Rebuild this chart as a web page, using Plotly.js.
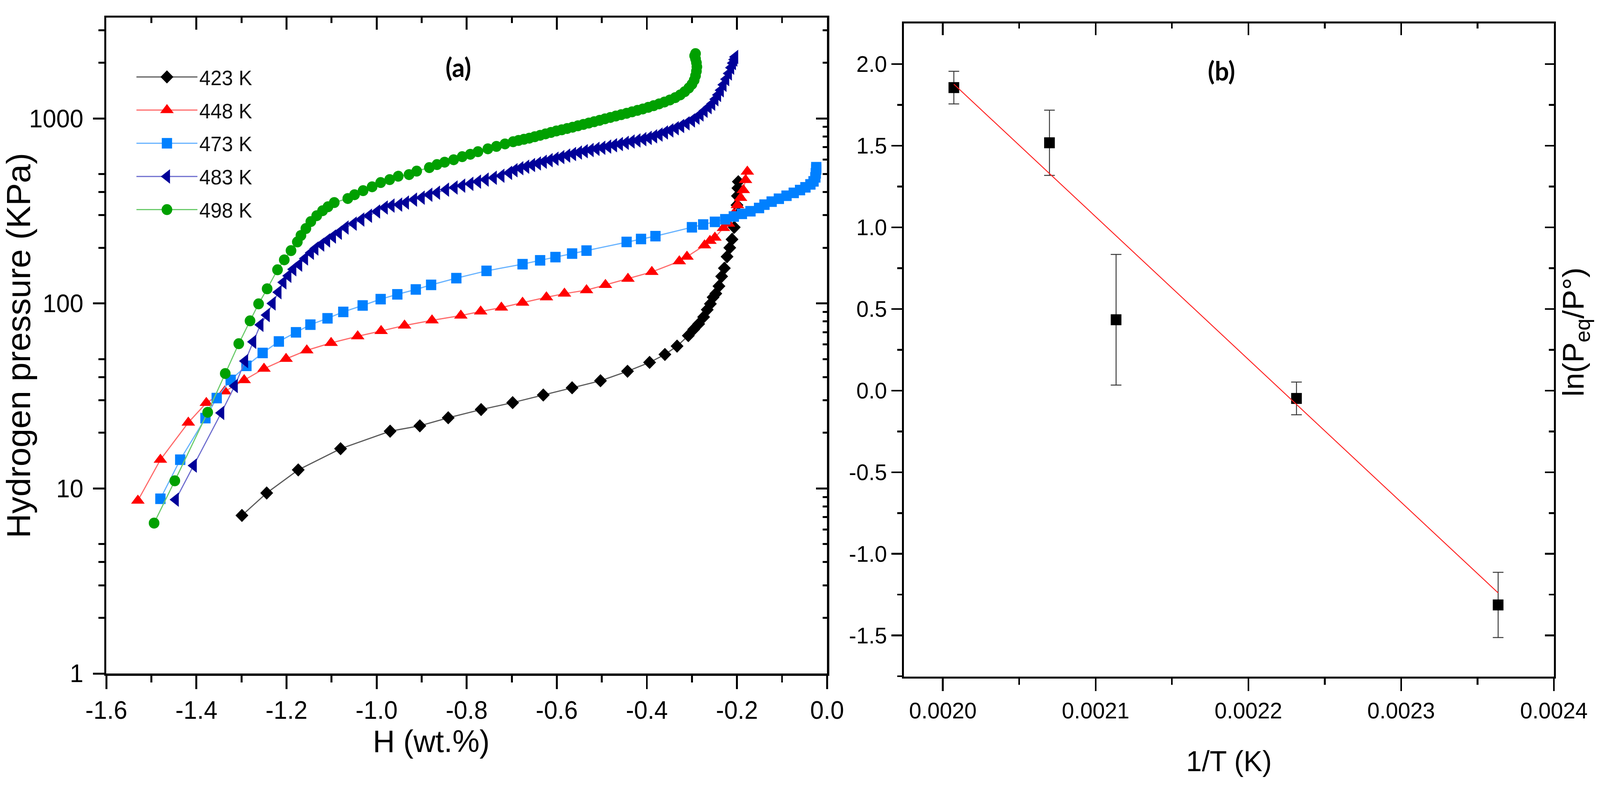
<!DOCTYPE html>
<html><head><meta charset="utf-8">
<script src="https://cdn.plot.ly/plotly-3.0.1.min.js"></script>
<style>
html,body{margin:0;padding:0;background:#fff;overflow:hidden}
#plot{position:absolute;left:0;top:0;width:4198px;height:2012px;transform-origin:0 0}
</style></head><body><div id="plot"></div>
<script>
// ---------- data (panel a): H (wt.%) vs hydrogen pressure (KPa) ----------
const h423 = [-1.299,-1.244,-1.174,-1.080,-0.970,-0.904,-0.841,-0.768,-0.698,-0.630,-0.566,-0.503,-0.443,-0.394,-0.360,-0.333,-0.308,-0.296,-0.285,-0.274,-0.266,-0.259,-0.253,-0.247,-0.240,-0.234,-0.228,-0.222,-0.216,-0.211,-0.206,-0.202,-0.200,-0.199,-0.198,-0.197];
const p423 = [7.15,9.45,12.6,16.4,20.4,21.8,24.1,26.7,29.1,32.0,35.0,38.2,43.0,48.0,53.0,58.8,67.0,72.5,77.5,84.5,92.5,99.5,108,113,124,140,155,179,200,222,258,308,340,381,420,455];

const h448 = [-1.530,-1.480,-1.418,-1.378,-1.337,-1.294,-1.250,-1.201,-1.155,-1.101,-1.042,-0.990,-0.938,-0.877,-0.813,-0.769,-0.723,-0.676,-0.623,-0.583,-0.534,-0.492,-0.442,-0.389,-0.328,-0.311,-0.272,-0.260,-0.249,-0.230,-0.219,-0.207,-0.199,-0.192,-0.186,-0.181,-0.177];
const p448 = [8.6,14.3,22.7,29.0,33.5,38.5,44.4,50.2,55.8,61.2,66.5,71.0,76.0,81.0,86.0,90.5,95.0,101,108,113,118,126,136,148,169,179,206,218,227,256,270,305,340,372,410,465,516];

const h473 = [-1.480,-1.436,-1.380,-1.355,-1.324,-1.289,-1.253,-1.217,-1.179,-1.147,-1.109,-1.074,-1.031,-0.991,-0.954,-0.913,-0.879,-0.823,-0.756,-0.676,-0.637,-0.603,-0.566,-0.534,-0.445,-0.413,-0.381,-0.300,-0.275,-0.249,-0.226,-0.207,-0.189,-0.170,-0.151,-0.139,-0.123,-0.107,-0.090,-0.074,-0.060,-0.048,-0.037,-0.030,-0.026,-0.025,-0.024,-0.024];
const p473 = [8.8,14.3,24.0,30.8,38.6,46.0,54.0,62.3,69.8,76.8,83.1,90.0,97.5,105.5,112,119,126,137,150,163,171,178,186,193,215,223,231,258,267,276,285,295,305,315,328,342,355,368,382,396,410,424,440,457,480,505,530,545];

const h483 = [-1.446,-1.406,-1.345,-1.315,-1.292,-1.274,-1.258,-1.244,-1.231,-1.218,-1.207,-1.196,-1.185,-1.172,-1.159,-1.146,-1.136,-1.123,-1.110,-1.097,-1.084,-1.069,-1.051,-1.034,-1.017,-0.999,-0.982,-0.967,-0.950,-0.935,-0.917,-0.900,-0.883,-0.866,-0.846,-0.827,-0.810,-0.792,-0.775,-0.758,-0.740,-0.723,-0.706,-0.694,-0.681,-0.668,-0.655,-0.642,-0.629,-0.616,-0.603,-0.590,-0.577,-0.564,-0.551,-0.538,-0.525,-0.512,-0.499,-0.486,-0.473,-0.460,-0.447,-0.434,-0.421,-0.408,-0.396,-0.384,-0.372,-0.360,-0.348,-0.336,-0.324,-0.312,-0.300,-0.290,-0.281,-0.272,-0.263,-0.255,-0.248,-0.242,-0.236,-0.230,-0.224,-0.218,-0.213,-0.209,-0.206,-0.204];
const p483 = [8.7,13.3,25.6,35.8,48.8,62.0,76.6,86.5,100,115,130,141,153,162,175,188,198,208,219,230,241,257,270,284,298,314,330,338,342,351,364,373,387,397,412,423,433,443,455,467,478,490,508,525,538,548,560,571,583,595,606,618,630,642,654,665,675,685,694,704,716,727,738,750,760,772,785,800,818,840,862,885,910,940,975,1010,1050,1100,1150,1200,1270,1340,1420,1520,1630,1750,1880,1990,2080,2150];

const h498 = [-1.494,-1.448,-1.375,-1.336,-1.306,-1.281,-1.262,-1.243,-1.220,-1.205,-1.190,-1.176,-1.168,-1.157,-1.146,-1.133,-1.120,-1.108,-1.094,-1.064,-1.049,-1.030,-1.010,-0.991,-0.971,-0.952,-0.928,-0.911,-0.883,-0.866,-0.849,-0.829,-0.810,-0.792,-0.775,-0.753,-0.734,-0.715,-0.697,-0.685,-0.673,-0.661,-0.649,-0.637,-0.625,-0.613,-0.601,-0.589,-0.577,-0.565,-0.553,-0.541,-0.529,-0.517,-0.505,-0.493,-0.481,-0.469,-0.457,-0.445,-0.433,-0.421,-0.409,-0.397,-0.385,-0.373,-0.361,-0.349,-0.337,-0.326,-0.316,-0.307,-0.300,-0.295,-0.292,-0.290,-0.289,-0.290,-0.292,-0.294,-0.292];
const p498 = [6.5,11.0,25.8,41.8,60.6,80.5,99.5,120,152,172,193,215,233,254,277,298,317,333,351,369,387,407,427,450,467,487,497,519,542,563,580,598,621,640,661,685,706,728,748,760,771,782,796,810,825,840,855,868,882,896,912,928,944,960,976,995,1012,1030,1048,1066,1085,1105,1125,1148,1172,1198,1226,1258,1295,1340,1395,1460,1530,1610,1700,1800,1900,2000,2100,2180,2240];

const seriesNames = ['423 K','448 K','473 K','483 K','498 K'];

// ---------- data (panel b): 1/T vs ln(Peq/P°) ----------
const invT    = [0.0020072, 0.0020698, 0.0021134, 0.0022315, 0.0023635];
const lnP     = [1.856, 1.518, 0.434, -0.048, -1.313];
const lnPerr  = [0.10, 0.20, 0.40, 0.10, 0.20];
const fitInvT = [0.0020072, 0.0023635];
const fitLnP  = [1.877, -1.239];

// ---------- tick labels ----------
const hTickVals = [-1.6,-1.4,-1.2,-1.0,-0.8,-0.6,-0.4,-0.2,0.0];
const hTickText = ['-1.6','-1.4','-1.2','-1.0','-0.8','-0.6','-0.4','-0.2','0.0'];
const pTickVals = [1,10,100,1000];
const pTickText = ['1','10','100','1000'];
const pMinorLeft = [2,3,4,5,20,30,40,50,200,300,400,500,2000,3000];
const invTTickVals = [0.0020,0.0021,0.0022,0.0023,0.0024];
const invTTickText = ['0.0020','0.0021','0.0022','0.0023','0.0024'];
const lnTickVals = [-1.5,-1.0,-0.5,0.0,0.5,1.0,1.5,2.0];
const lnTickText = ['-1.5','-1.0','-0.5','0.0','0.5','1.0','1.5','2.0'];

// ---------- geometry (pixels of the 4198 x 2012 figure) ----------
const W = 4198, H = 2012;
const fx = v => v / W;
const fy = v => 1 - v / H;
const FONT = 'Liberation Sans, Arial, sans-serif';

// fit the figure into the actual viewport if it is smaller than requested
(function(){
  var vw = window.innerWidth || document.documentElement.clientWidth || W;
  var vh = window.innerHeight || document.documentElement.clientHeight || H;
  var sx = Math.min(1, vw / W), sy = Math.min(1, vh / H);
  document.getElementById('plot').style.transform = 'scale(' + sx + ',' + sy + ')';
})();

const base = {showline:true, linecolor:'#000', showgrid:false, zeroline:false,
  tickcolor:'#000', automargin:false, fixedrange:true};
const phantom = {showline:false, showgrid:false, zeroline:false, ticks:'', showticklabels:false,
  automargin:false, fixedrange:true, range:[0,1]};

const markerSizes = [26, 31, 27, 32, 28];

function series(i, x, y, mcolor, lcolor, symbol) {
  return {x:x, y:y, name:seriesNames[i], type:'scatter', mode:'lines+markers',
    line:{color:lcolor, width:3},
    marker:{symbol:symbol, size:markerSizes[i], color:mcolor, line:{width:0}},
    xaxis:'x', yaxis:'y', legendgroup:'g' + i, hoverinfo:'skip'};
}

const traces = [
  series(0, h423, p423, '#000000', '#5a5a5a', 'diamond'),
  series(1, h448, p448, '#FF0000', '#FF6A6A', 'triangle-up'),
  series(2, h473, p473, '#0080FF', '#66B2FF', 'square'),
  series(3, h483, p483, '#000099', '#6F6FCF', 'triangle-left'),
  series(4, h498, p498, '#00A000', '#6CCB6C', 'circle'),
  {x:invT, y:lnP, type:'scatter', mode:'markers', showlegend:false, hoverinfo:'skip',
   marker:{symbol:'square', size:28, color:'#000'},
   error_y:{type:'data', array:lnPerr, visible:true, color:'#3a3a3a', thickness:2.5, width:14},
   xaxis:'x2', yaxis:'y2'},
  {x:fitInvT, y:fitLnP, type:'scatter', mode:'lines', showlegend:false, hoverinfo:'skip',
   line:{color:'#FF2020', width:2.4}, xaxis:'x2', yaxis:'y2'},
  // empty traces: mirror axes with inward ticks, and title holders
  {x:[], y:[], type:'scatter', showlegend:false, xaxis:'x3', yaxis:'y'},
  {x:[], y:[], type:'scatter', showlegend:false, xaxis:'x', yaxis:'y3'},
  {x:[], y:[], type:'scatter', showlegend:false, xaxis:'x4', yaxis:'y2'},
  {x:[], y:[], type:'scatter', showlegend:false, xaxis:'x2', yaxis:'y4'},
  {x:[], y:[], type:'scatter', showlegend:false, xaxis:'x5', yaxis:'y'},
  {x:[], y:[], type:'scatter', showlegend:false, xaxis:'x6', yaxis:'y2'},
  {x:[], y:[], type:'scatter', showlegend:false, xaxis:'x2', yaxis:'y5'}
];

const hRange = [-1.6, 0];
const pRange = [0, 3.545];
const tRange = [0.0019746, 0.0024];
const lRange = [-1.752, 2.249];
const LA = [279, 2170, 45, 1724];   // left panel: x0, x1, top, bottom
const RB = [2372, 4077, 60, 1732];  // right panel

const layout = {
  width: W, height: H, autosize:false,
  margin:{l:0, r:0, t:0, b:0, pad:0},
  paper_bgcolor:'#ffffff', plot_bgcolor:'rgba(0,0,0,0)',
  font:{family:FONT, color:'#000', size:60},
  showlegend:true,
  legend:{x:fx(353), y:fy(156), xanchor:'left', yanchor:'top',
    bgcolor:'rgba(0,0,0,0)', borderwidth:0, font:{family:FONT, size:53, color:'#111'},
    itemwidth:160, tracegroupgap:13, itemsizing:'trace', traceorder:'grouped'},

  xaxis: Object.assign({}, base, {
    domain:[fx(LA[0]), fx(LA[1])], anchor:'y', range:hRange, linewidth:5.5,
    tickmode:'array', tickvals:hTickVals, ticktext:hTickText,
    ticks:'outside', ticklen:34, tickwidth:5, tickfont:{size:64},
    minor:{tickmode:'linear', tick0:-1.6, dtick:0.1, ticks:'outside', ticklen:17, tickwidth:5, tickcolor:'#000'}}),
  yaxis: Object.assign({}, base, {
    domain:[fy(LA[3]), fy(LA[2])], anchor:'x', type:'log', range:pRange, linewidth:5.5,
    tickmode:'array', tickvals:pTickVals, ticktext:pTickText, ticklabelstandoff:12,
    ticks:'outside', ticklen:30, tickwidth:5, tickfont:{size:64},
    minor:{tickmode:'array', tickvals:pMinorLeft, ticks:'outside', ticklen:15, tickwidth:5, tickcolor:'#000'},
    title:{text:'Hydrogen pressure (KPa)', font:{size:87}, standoff:0}}),
  xaxis3: Object.assign({}, base, {
    overlaying:'x', anchor:'y', side:'top', range:hRange, linewidth:5.5,
    tickmode:'array', tickvals:hTickVals, showticklabels:false,
    ticks:'inside', ticklen:31, tickwidth:5,
    minor:{tickmode:'linear', tick0:-1.6, dtick:0.1, ticks:'inside', ticklen:14, tickwidth:5, tickcolor:'#000'}}),
  yaxis3: Object.assign({}, base, {
    overlaying:'y', anchor:'x', side:'right', type:'log', range:pRange, linewidth:5.5,
    tickmode:'array', tickvals:pTickVals, showticklabels:false,
    ticks:'inside', ticklen:29, tickwidth:5,
    minor:{dtick:'D1', ticks:'inside', ticklen:12, tickwidth:5, tickcolor:'#000'}}),
  xaxis5: Object.assign({}, phantom, {
    domain:[fx(1131.5 - 700), fx(1131.5 + 700)], anchor:'y', side:'bottom',
    title:{text:'H (wt.%)', font:{size:80}, standoff:145}}),

  xaxis2: Object.assign({}, base, {
    domain:[fx(RB[0]), fx(RB[1])], anchor:'y2', range:tRange, linewidth:5,
    tickmode:'array', tickvals:invTTickVals, ticktext:invTTickText,
    ticks:'outside', ticklen:32, tickwidth:4.5, tickfont:{size:58},
    minor:{tickmode:'linear', tick0:0.002, dtick:0.00005, ticks:'outside', ticklen:16, tickwidth:4.5, tickcolor:'#000'}}),
  yaxis2: Object.assign({}, base, {
    domain:[fy(RB[3]), fy(RB[2])], anchor:'x2', range:lRange, linewidth:5,
    tickmode:'array', tickvals:lnTickVals, ticktext:lnTickText,
    ticks:'outside', ticklen:28, tickwidth:4.5, tickfont:{size:58},
    minor:{tickmode:'linear', tick0:0, dtick:0.25, ticks:'outside', ticklen:13, tickwidth:4.5, tickcolor:'#000'}}),
  xaxis4: Object.assign({}, base, {
    overlaying:'x2', anchor:'y2', side:'top', range:tRange, linewidth:5,
    tickmode:'array', tickvals:invTTickVals, showticklabels:false,
    ticks:'inside', ticklen:30, tickwidth:4.5,
    minor:{tickmode:'linear', tick0:0.002, dtick:0.00005, ticks:'inside', ticklen:13, tickwidth:4.5, tickcolor:'#000'}}),
  yaxis4: Object.assign({}, base, {
    overlaying:'y2', anchor:'x2', side:'right', range:lRange, linewidth:5,
    tickmode:'array', tickvals:lnTickVals, showticklabels:false,
    ticks:'inside', ticklen:24, tickwidth:4.5,
    minor:{tickmode:'linear', tick0:0, dtick:0.25, ticks:'inside', ticklen:13, tickwidth:4.5, tickcolor:'#000'}}),
  xaxis6: Object.assign({}, phantom, {
    domain:[fx(RB[0]), fx(RB[1])], anchor:'y2', side:'bottom',
    title:{text:'1/T (K)', font:{size:74}, standoff:190}}),
  yaxis5: Object.assign({}, phantom, {
    domain:[fy(850 + 500), fy(850 - 500)], anchor:'x2', side:'right',
    title:{text:'ln(P<sub>eq</sub>/P°)', font:{size:78}, standoff:23}}),

  annotations:[
    {text:'<b>(a)</b>', xref:'paper', yref:'paper', x:fx(1202), y:fy(171), xanchor:'center', yanchor:'middle',
     showarrow:false, font:{family:'Lato, Open Sans, sans-serif', size:66, color:'#000'}},
    {text:'<b>(b)</b>', xref:'paper', yref:'paper', x:fx(3205), y:fy(180), xanchor:'center', yanchor:'middle',
     showarrow:false, font:{family:'Lato, Open Sans, sans-serif', size:66, color:'#000'}}
  ]
};

function enlargeLegendPoints(gd){
  // Plotly caps legend symbols at 16 px; enlarge them to the trace marker size
  gd.querySelectorAll('.legend .traces').forEach(function(g, i){
    var pt = g.querySelector('.legendpoints path.scatterpts');
    if(!pt || i >= markerSizes.length) return;
    var tr = pt.getAttribute('transform') || '';
    tr = tr.replace(/\s*scale\([^)]*\)/, '');
    pt.setAttribute('transform', tr + ' scale(' + (markerSizes[i] / 16).toFixed(3) + ')');
  });
}

Plotly.newPlot('plot', traces, layout, {staticPlot:true, displayModeBar:false, responsive:false}).then(function(gd){
  enlargeLegendPoints(gd);
  setTimeout(function(){ enlargeLegendPoints(gd); }, 50);
});
</script>
</body></html>
